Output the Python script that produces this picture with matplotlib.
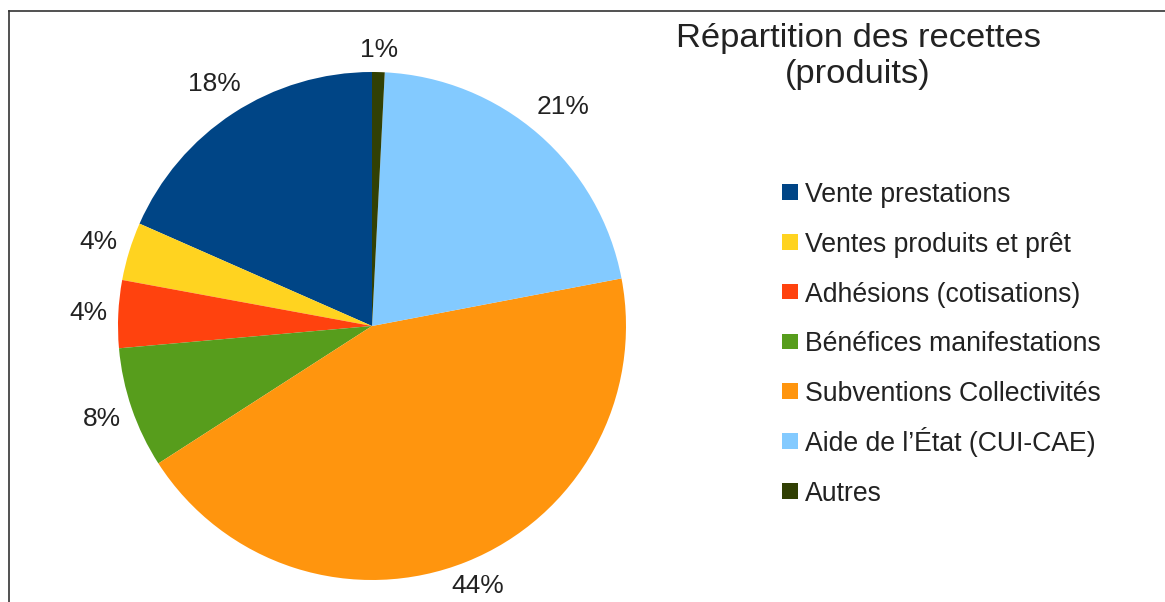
import matplotlib
matplotlib.use("Agg")
import matplotlib.pyplot as plt
import numpy as np
from matplotlib.patches import Rectangle
from matplotlib.lines import Line2D

plt.rcParams['font.family'] = ['Liberation Sans', 'DejaVu Sans']

# Data (percent of receipts)
categories = ['Vente prestations', 'Ventes produits et prêt', 'Adhésions (cotisations)',
              'Bénéfices manifestations', 'Subventions Collectivités',
              "Aide de l’État (CUI-CAE)", 'Autres']
values = [18.4, 3.7, 4.3, 7.7, 43.9, 21.2, 0.8]
pct_labels = ['18%', '4%', '4%', '8%', '44%', '21%', '1%']
colors = ['#004586', '#ffd320', '#ff420e', '#579d1c', '#ff950e', '#83caff', '#314004']

W, H = 1165, 602
fig = plt.figure(figsize=(W / 100, H / 100), dpi=100)

# pie axes placed in pixels: centre (372, 326), radius 254
cx, cy, r = 372, 326, 254
ax = fig.add_axes([(cx - r) / W, (H - cy - r) / H, 2 * r / W, 2 * r / H])
wedges, texts = ax.pie(values, colors=colors, startangle=90, counterclock=True,
                       labels=pct_labels, labeldistance=1.1,
                       textprops={'fontsize': 19, 'color': '#222222'})
ax.set_xlim(-1, 1)
ax.set_ylim(-1, 1)
ax.set_aspect('equal')
ax.axis('off')

# place percent labels just outside the rim, like the office chart does
fig.canvas.draw()
renderer = fig.canvas.get_renderer()
gap = 10
for w, t in zip(wedges, texts):
    ang = np.deg2rad((w.theta1 + w.theta2) / 2)
    bb = t.get_window_extent(renderer)
    tw, th = bb.width / 2, bb.height / 2
    dist = r + gap + abs(np.cos(ang)) * tw + abs(np.sin(ang)) * th
    x = np.cos(ang) * dist
    y = np.sin(ang) * dist
    # keep text inside the picture
    y = max(y, -(H - cy) + th + 4)
    t.set_position((x / r, y / r))
    t.set_ha('center')
    t.set_va('center')

# title
fig.text(858 / W, 1 - 47 / H, 'Répartition des recettes', ha='center', va='baseline',
         fontsize=24.8, color='#222222')
fig.text(858 / W, 1 - 83 / H, '(produits)', ha='center', va='baseline',
         fontsize=24.8, color='#222222')

# legend drawn by hand
lx, ly0, dy, sq = 782, 192, 49.8, 15.5
for i, (lab, col) in enumerate(zip(categories, colors)):
    y = ly0 + i * dy
    fig.add_artist(Rectangle((lx / W, 1 - (y + sq / 2) / H), sq / W, sq / H,
                             transform=fig.transFigure, facecolor=col, edgecolor='none'))
    fig.text((lx + 23) / W, 1 - (y + 10) / H, lab, ha='left', va='baseline',
             fontsize=19.2, color='#222222')

# frame lines (left and top edge of the chart box)
fig.add_artist(Line2D([9 / W, 9 / W], [0, 1 - 11 / H], transform=fig.transFigure,
                      color='#333333', lw=1.2))
fig.add_artist(Line2D([9 / W, 1], [1 - 11 / H, 1 - 11 / H], transform=fig.transFigure,
                      color='#333333', lw=1.2))

fig.savefig('out.png', dpi=100)
